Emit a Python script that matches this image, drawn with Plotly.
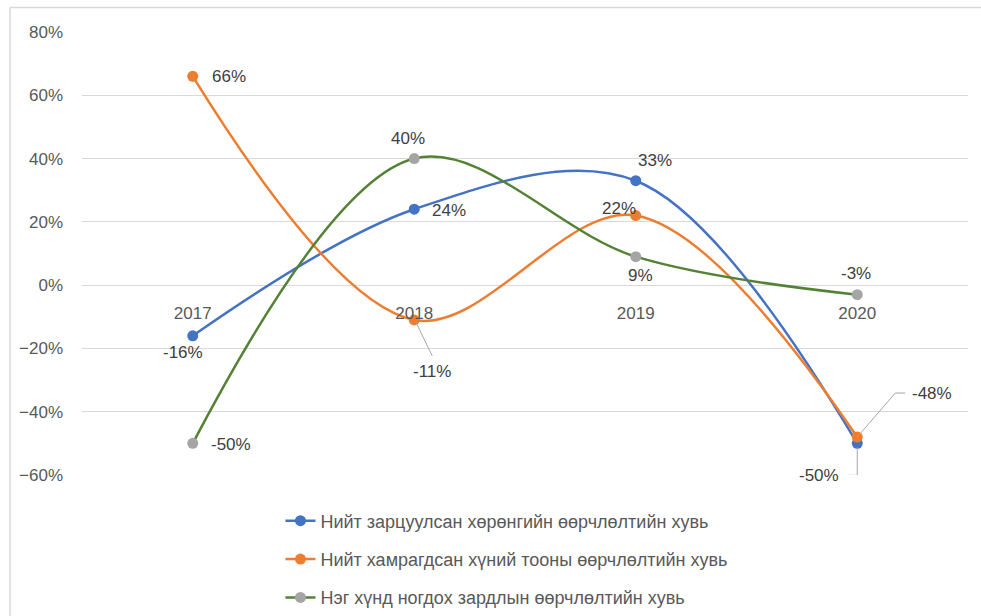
import plotly.graph_objects as go

years = ["2017", "2018", "2019", "2020"]
series_names = [
    "Нийт зарцуулсан хөрөнгийн өөрчлөлтийн хувь",
    "Нийт хамрагдсан хүний тооны өөрчлөлтийн хувь",
    "Нэг хүнд ногдох зардлын өөрчлөлтийн хувь",
]
asset_change = [-0.16, 0.24, 0.33, -0.50]
people_change = [0.66, -0.11, 0.22, -0.48]
per_person_change = [-0.50, 0.40, 0.09, -0.03]
y_ticks = [-0.6, -0.4, -0.2, 0.0, 0.2, 0.4, 0.6, 0.8]

line_colors = ["#4472C4", "#ED7D31", "#548235"]
marker_colors = ["#4472C4", "#ED7D31", "#A5A5A5"]
all_values = [asset_change, people_change, per_person_change]

# label offsets in pixels (xshift, yshift) per series per point
label_offsets = [
    [(-10, -17), (35, -1), (19, 20), (-38, -32)],
    [(36, 0), (18, -52), (-17, 7), (75, 44)],
    [(38, -1), (-6, 20), (5, -19), (-1, 21)],
]
# leader lines (series index, point index, pixel path relative to point; y up)
leaders = [
    (1, 1, "M 2,-3 L 18,-36"),
    (1, 3, "M 0,0 L 38,44 L 48,44"),
    (0, 3, "M 0,-4 L 0,-32 L -10,-32"),
]

FONT = "Liberation Sans"
fig = go.Figure()
for i, (name, vals) in enumerate(zip(series_names, all_values)):
    fig.add_trace(go.Scatter(
        x=list(range(len(years))), y=vals, name=name, mode="lines+markers",
        line=dict(color=line_colors[i], width=2.5, shape="spline", smoothing=1.0),
        marker=dict(color=marker_colors[i], size=11),
        legendgroup=f"g{i}",
    ))

annotations = []
for i, vals in enumerate(all_values):
    for j, v in enumerate(vals):
        dx, dy = label_offsets[i][j]
        annotations.append(dict(
            x=j, y=v, xref="x", yref="y", text=f"{round(v*100):d}%",
            showarrow=False, xshift=dx, yshift=dy,
            font=dict(family=FONT, size=17, color="#404040"),
        ))

shapes = []
for si, pj, path in leaders:
    shapes.append(dict(
        type="path", xref="x", yref="y", xsizemode="pixel", ysizemode="pixel",
        xanchor=pj, yanchor=all_values[si][pj], path=path,
        line=dict(color="#A6A6A6", width=1), layer="above",
    ))
# chart area border (top and left edges visible)
shapes.append(dict(type="line", xref="paper", yref="paper",
                   x0=-0.0813, x1=1.1, y0=1.0553, y1=1.0553,
                   line=dict(color="#D9D9D9", width=1.5), layer="above"))
shapes.append(dict(type="line", xref="paper", yref="paper",
                   x0=-0.0813, x1=-0.0813, y0=-0.4, y1=1.0553,
                   line=dict(color="#D9D9D9", width=1.5), layer="above"))

fig.update_layout(
    width=981, height=616,
    margin=dict(l=82, r=13, t=32, b=141, autoexpand=False),
    paper_bgcolor="white", plot_bgcolor="white",
    font=dict(family=FONT, size=17, color="#595959"),
    showlegend=True,
    legend=dict(
        x=0.224, xanchor="left", y=-0.062, yanchor="top",
        orientation="v", tracegroupgap=12,
        font=dict(family=FONT, size=18, color="#595959"),
        bgcolor="rgba(0,0,0,0)",
    ),
    xaxis=dict(
        range=[-0.5, 3.5], anchor="free",
        tickvals=list(range(len(years))), ticktext=years,
        position=0.6 / 1.4, showgrid=False, showline=False, zeroline=False,
        ticks="", ticklabelstandoff=16,
        tickfont=dict(family=FONT, size=17, color="#595959"),
    ),
    yaxis=dict(
        range=[-0.6, 0.8], tickvals=y_ticks, tickformat=".0%",
        showgrid=True, gridcolor="#D9D9D9", gridwidth=1,
        zeroline=False, showline=False, ticks="", ticklabelstandoff=18,
        tickfont=dict(family=FONT, size=17, color="#595959"),
    ),
    annotations=annotations,
    shapes=shapes,
)

fig.write_html(
    "out.html",
    config={"displayModeBar": False},
    post_script="document.body.style.margin='0';document.body.style.overflow='hidden';",
)
